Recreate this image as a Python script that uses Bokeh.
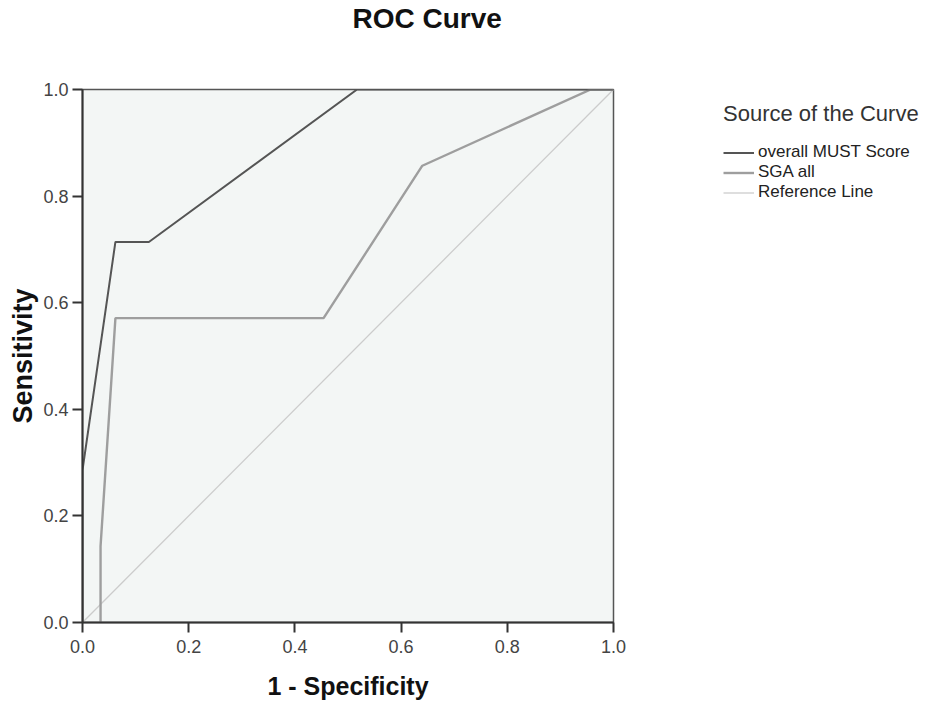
from bokeh.plotting import figure
from bokeh.models import Legend, LegendItem, Range1d, FixedTicker, PrintfTickFormatter, Title
from bokeh.embed import file_html
from bokeh.resources import INLINE

# ROC data (1 - specificity, sensitivity)
must_fpr = [0.0, 0.0, 0.062, 0.125, 0.517, 1.0]
must_tpr = [0.0, 0.286, 0.714, 0.714, 1.0, 1.0]
sga_fpr = [0.034, 0.034, 0.062, 0.454, 0.64, 0.957, 1.0]
sga_tpr = [0.0, 0.143, 0.571, 0.571, 0.857, 1.0, 1.0]
ref_fpr = [0.0, 1.0]
ref_tpr = [0.0, 1.0]
ticks = [0.0, 0.2, 0.4, 0.6, 0.8, 1.0]
series_names = ["overall MUST Score", "SGA all", "Reference Line"]

FONT = "Liberation Sans"

p = figure(frame_width=531, frame_height=533, output_backend="svg", toolbar_location=None,
           x_range=Range1d(0, 1), y_range=Range1d(0, 1),
           min_border_left=82, min_border_right=301, min_border_top=89, min_border_bottom=80)
p.background_fill_color = "#f3f6f5"
p.border_fill_color = "white"
p.outline_line_color = "#555555"
p.outline_line_width = 1.5
p.grid.visible = False

p.title.text = "ROC Curve"
p.title.text_font = FONT
p.title.text_font_size = "28px"
p.title.text_font_style = "bold"
p.title.text_color = "#111111"
p.title.align = "left"
p.title.offset = 270
p.title.standoff = 0

# blank spacer between the frame and the title, lifting the title
spacer = Title(text=" ", text_font_size="20px", standoff=32)
p.add_layout(spacer, "above")

for ax in (p.xaxis[0], p.yaxis[0]):
    ax.ticker = FixedTicker(ticks=ticks)
    ax.formatter = PrintfTickFormatter(format="%.1f")
    ax.minor_tick_line_color = None
    ax.major_tick_in = 0
    ax.major_tick_out = 10
    ax.axis_line_width = 2
    ax.axis_line_color = "#333333"
    ax.major_tick_line_color = "#333333"
    ax.major_tick_line_width = 2
    ax.major_label_text_font = FONT
    ax.major_label_text_font_size = "18px"
    ax.major_label_text_color = "#444444"
    ax.axis_label_text_font = FONT
    ax.axis_label_text_font_style = "bold"
    ax.axis_label_text_color = "#111111"

p.xaxis.axis_label = "1 - Specificity"
p.xaxis.axis_label_text_font_size = "25px"
p.xaxis.major_label_standoff = 7
p.xaxis.axis_label_standoff = 16
p.yaxis.axis_label = "Sensitivity"
p.yaxis.axis_label_text_font_size = "27px"
p.yaxis.major_label_standoff = 4
p.yaxis.axis_label_standoff = 2

r_ref = p.line(ref_fpr, ref_tpr, line_color="#cccccc", line_width=1.3)
r_sga = p.line(sga_fpr, sga_tpr, line_color="#9e9e9e", line_width=2.4)
r_must = p.line(must_fpr, must_tpr, line_color="#555555", line_width=2)

legend = Legend(items=[LegendItem(label=series_names[0], renderers=[r_must]),
                       LegendItem(label=series_names[1], renderers=[r_sga]),
                       LegendItem(label=series_names[2], renderers=[r_ref])],
                title="Source of the Curve",
                location=(110, 420))
legend.title_text_font = FONT
legend.title_text_font_size = "22px"
legend.title_text_font_style = "normal"
legend.title_text_color = "#333333"
legend.label_text_font = FONT
legend.label_text_font_size = "17px"
legend.label_text_color = "#222222"
legend.glyph_width = 31
legend.glyph_height = 17
legend.label_height = 17
legend.spacing = 0
legend.padding = 0
legend.margin = 0
legend.label_standoff = 4
legend.title_standoff = 15
legend.border_line_color = None
legend.background_fill_alpha = 0
p.add_layout(legend, "right")

open("out.html", "w").write(file_html(p, INLINE))
